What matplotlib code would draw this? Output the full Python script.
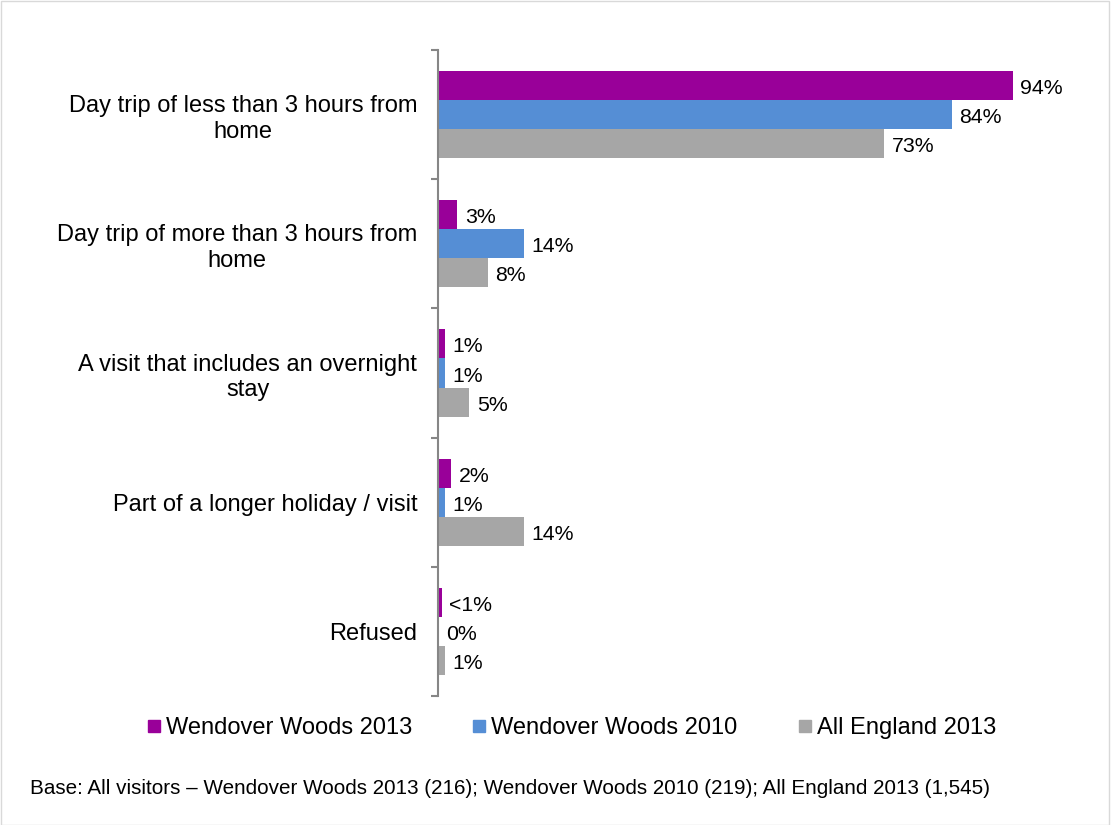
import matplotlib
matplotlib.use("Agg")
import matplotlib.pyplot as plt
from matplotlib.lines import Line2D
from matplotlib.patches import Rectangle
import numpy as np

plt.rcParams['font.family'] = ['Liberation Sans', 'DejaVu Sans']

categories = [
    "Day trip of less than 3 hours from\nhome",
    "Day trip of more than 3 hours from\nhome",
    "A visit that includes an overnight\nstay",
    "Part of a longer holiday / visit",
    "Refused",
]
series_names = ["Wendover Woods 2013", "Wendover Woods 2010", "All England 2013"]
ww2013 = [94, 3, 1, 2, 0.5]
ww2010 = [84, 14, 1, 1, 0]
eng2013 = [73, 8, 5, 14, 1]
ww2013_labels = ["94%", "3%", "1%", "2%", "<1%"]
ww2010_labels = ["84%", "14%", "1%", "1%", "0%"]
eng2013_labels = ["73%", "8%", "5%", "14%", "1%"]
colors = ["#990099", "#558ED5", "#A6A6A6"]

W, H = 1111, 825
fig = plt.figure(figsize=(W / 100, H / 100), dpi=100)
ax = fig.add_axes([438 / W, 1 - 696 / H, (1086 - 438) / W, (696 - 50) / H])

n = len(categories)
y = np.arange(n)
bh = 0.225
series = [(ww2013, ww2013_labels), (ww2010, ww2010_labels), (eng2013, eng2013_labels)]
for i, ((vals, labs), col) in enumerate(zip(series, colors)):
    pos = y + (i - 1) * bh
    ax.barh(pos, vals, height=bh, color=col, edgecolor='none', zorder=1)
    for p, v, lab in zip(pos, vals, labs):
        ax.annotate(lab, (v, p), xytext=(5.5, -2.2), textcoords='offset points',
                    va='center', ha='left', fontsize=15.3, color='black')

ax.set_xlim(-0.12, 106)
ax.set_ylim(n - 0.5, -0.5)
ax.set_xticks([])
ax.set_yticks(np.arange(-0.5, n, 1.0))
ax.set_yticklabels([])
ax.set_yticks(y, minor=True)
ax.set_yticklabels(categories, minor=True, fontsize=17, ha='right', multialignment='center')
ax.tick_params(axis='y', which='minor', length=0, pad=15)
ax.tick_params(axis='y', which='major', length=5, width=1.5, color='#868686', direction='out')
for s in ['top', 'right', 'bottom']:
    ax.spines[s].set_visible(False)
ax.spines['left'].set_color('#868686')
ax.spines['left'].set_linewidth(1.5)
ax.spines['left'].set_zorder(3)

handles = [Line2D([], [], marker='s', linestyle='none', markersize=8,
                  markerfacecolor=c, markeredgecolor=c) for c in colors]
fig.legend(handles, series_names, loc='center', bbox_to_anchor=(572 / W, 1 - 728 / H),
           ncol=3, frameon=False, fontsize=17, handlelength=0.5, handletextpad=0.25,
           columnspacing=2.6)

fig.text(30 / W, 1 - 789 / H,
         "Base: All visitors \u2013 Wendover Woods 2013 (216); Wendover Woods 2010 (219); All England 2013 (1,545)",
         fontsize=14.9, va='center', ha='left')

fig.patches.append(Rectangle((0.5 / W, 0.5 / H), 1 - 3 / W, 1 - 1.5 / H, transform=fig.transFigure,
                             fill=False, edgecolor='#D9D9D9', linewidth=1))

fig.savefig("out.png", dpi=100)
